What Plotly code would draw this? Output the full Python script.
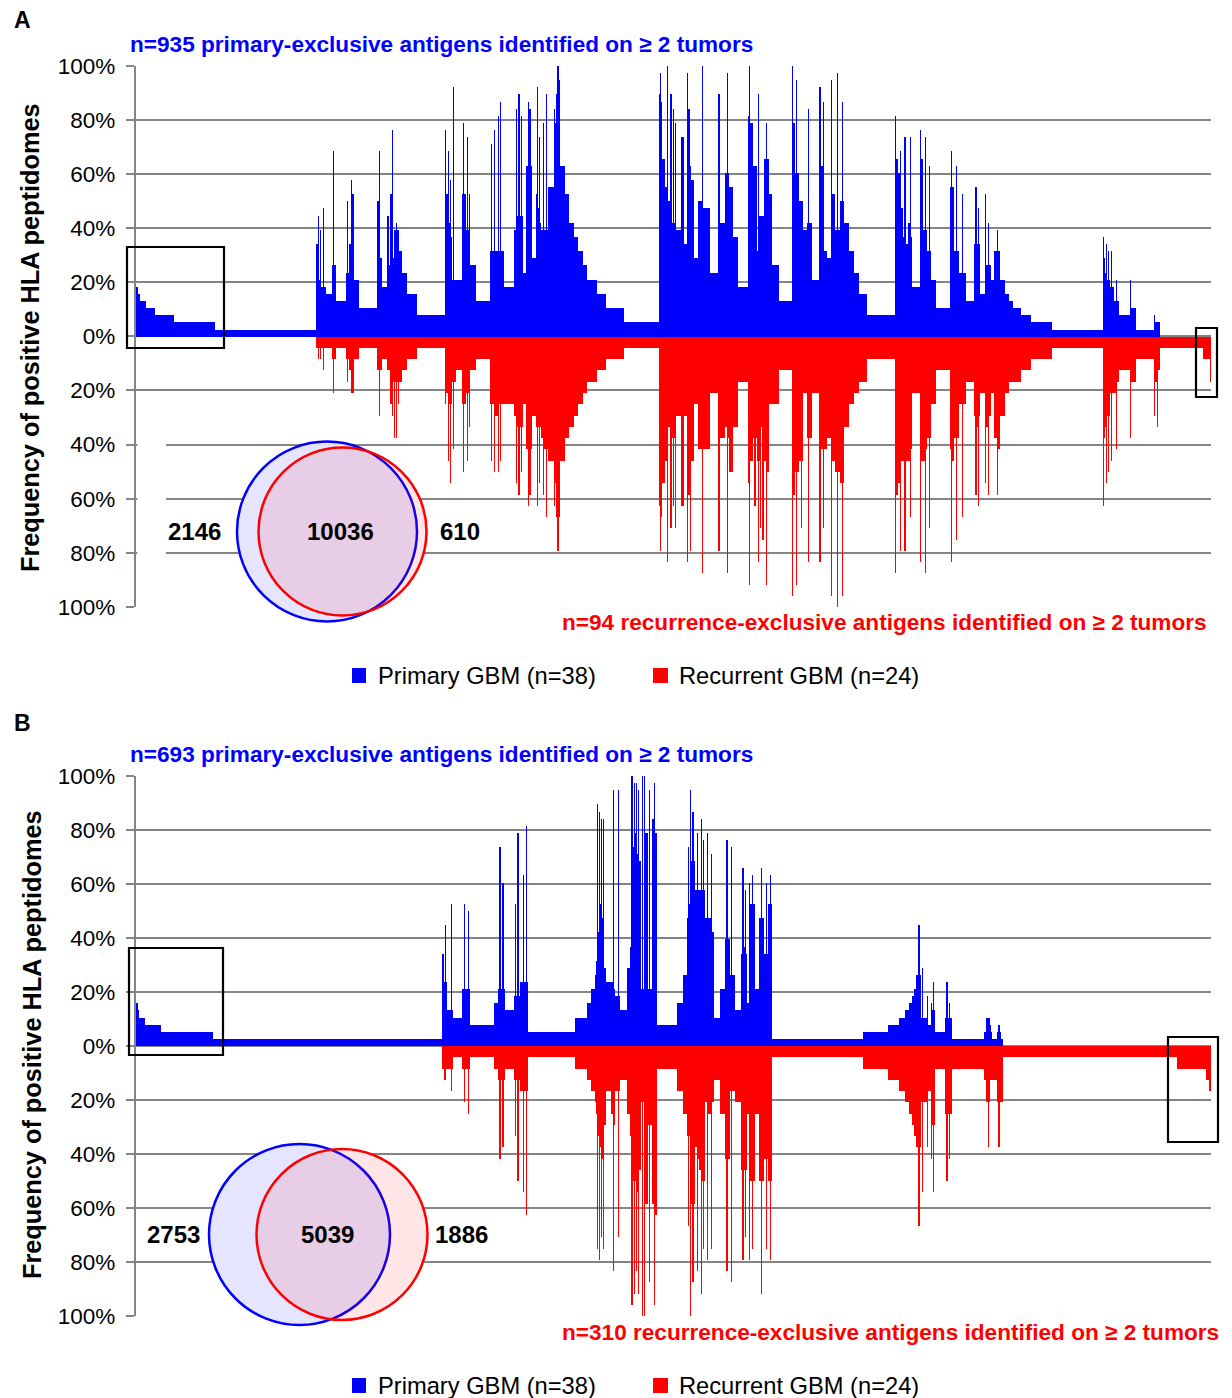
import numpy as np
import plotly.graph_objects as go

W, H = 1232, 1398
N_PRI, N_REC = 38, 24
FONT = "Liberation Sans, Arial, Helvetica, sans-serif"

# Each run = (number of consecutive proteins, # primary tumors positive, # recurrent tumors positive)
# ---------------- Panel A ----------------
A_pri_only = [(20, 7, 0), (28, 6, 0), (71, 5, 0), (111, 4, 0), (226, 3, 0), (479, 2, 0), (1211, 1, 0)]
A_shared_1 = [(18, 13, 1), (2, 17, 2), (24, 8, 1), (2, 15, 2), (30, 7, 1), (2, 12, 1), (2, 18, 3), (30, 7, 1),
              (75, 6, 1), (12, 10, 2), (2, 26, 5), (2, 17, 3), (30, 10, 2), (119, 5, 1),
              (12, 9, 2), (2, 19, 4), (20, 9, 2), (24, 13, 3), (2, 22, 5), (20, 13, 3), (2, 20, 5), (71, 8, 2),
              (215, 4, 1),
              (24, 19, 3), (2, 26, 7), (30, 11, 3), (71, 7, 2), (12, 17, 3), (24, 10, 3), (2, 20, 6), (18, 11, 3),
              (2, 23, 7), (2, 29, 7), (18, 11, 4),
              (2, 15, 9), (24, 15, 4), (2, 16, 9), (24, 15, 4), (2, 15, 6), (36, 12, 4), (59, 9, 3), (119, 6, 2),
              (340, 3, 1)]
A_shared_2 = [(2, 29, 6), (30, 20, 5), (2, 26, 10), (2, 25, 11), (20, 16, 6), (2, 22, 13), (20, 14, 6),
              (20, 8, 4), (2, 35, 10), (20, 8, 4), (71, 8, 3),
              (24, 20, 6), (2, 30, 12), (24, 20, 6), (20, 15, 5), (2, 28, 11), (20, 15, 5), (2, 20, 8),
              (71, 10, 3), (175, 5, 2)]
A_shared_3 = [(18, 12, 6), (2, 27, 11), (30, 12, 6), (2, 29, 12), (40, 12, 7), (2, 31, 12), (24, 12, 6),
              (2, 33, 11), (40, 12, 6),
              (119, 7, 6),
              (30, 15, 7), (2, 32, 13), (30, 17, 8), (2, 34, 14), (30, 17, 8), (2, 31, 12), (10, 17, 8),
              (48, 9, 6),
              (18, 24, 10), (2, 33, 15), (18, 26, 11), (2, 32, 14), (18, 24, 10),
              (59, 11, 7),
              (12, 20, 8), (2, 35, 15), (20, 18, 8), (2, 28, 13), (20, 16, 8),
              (30, 15, 9), (2, 30, 14), (30, 15, 10), (2, 34, 16), (18, 15, 10),
              (71, 21, 11), (2, 32, 15),
              (20, 30, 13), (2, 34, 16), (20, 33, 15), (2, 38, 19), (20, 33, 14), (2, 36, 16),
              (59, 24, 11), (48, 20, 9), (59, 16, 8), (48, 14, 7), (59, 12, 6), (48, 10, 5), (119, 8, 4),
              (107, 6, 3), (214, 4, 2), (416, 2, 1)]
A_shared_4 = [(12, 34, 15), (2, 37, 19), (18, 33, 16),
              (36, 25, 13),
              (30, 21, 11), (2, 38, 20), (42, 19, 8), (2, 34, 17),
              (30, 16, 9), (2, 32, 15), (20, 16, 9), (2, 30, 17),
              (59, 15, 7), (36, 28, 15), (48, 13, 7),
              (2, 37, 20), (30, 32, 14),
              (2, 24, 19), (42, 22, 11),
              (48, 11, 6),
              (50, 19, 10), (2, 37, 21), (2, 38, 14),
              (83, 18, 10), (110, 9, 5),
              (2, 34, 19), (66, 16, 9),
              (30, 23, 8), (2, 37, 21), (24, 23, 9),
              (48, 21, 12), (59, 14, 8), (110, 7, 4),
              (24, 31, 13), (2, 38, 22), (36, 30, 11),
              (24, 24, 9), (2, 22, 15), (18, 24, 9),
              (24, 12, 11), (2, 34, 20), (6, 12, 11),
              (12, 17, 8), (2, 17, 17), (30, 17, 8), (2, 17, 18), (12, 17, 8),
              (24, 25, 11), (2, 30, 22), (36, 25, 12),
              (36, 20, 6), (83, 10, 6), (150, 5, 3),
              (2, 38, 23), (30, 30, 14),
              (24, 23, 12), (2, 36, 22), (30, 23, 12),
              (24, 19, 11), (2, 19, 17), (18, 19, 11),
              (48, 15, 5),
              (18, 16, 9), (2, 32, 20), (36, 16, 9),
              (95, 8, 5),
              (2, 35, 20), (36, 24, 10), (2, 33, 17), (40, 12, 10),
              (59, 11, 9),
              (2, 36, 23), (42, 20, 11),
              (24, 15, 12), (2, 37, 23), (2, 35, 24), (24, 15, 12),
              (30, 19, 13), (2, 33, 23), (24, 19, 13),
              (59, 16, 8), (59, 12, 6), (59, 9, 5), (95, 6, 4), (335, 3, 2)]
A_shared_5 = [(2, 31, 21), (30, 25, 14),
              (24, 23, 13), (2, 26, 19), (30, 18, 11),
              (24, 14, 11), (2, 28, 19), (30, 13, 11),
              (30, 16, 11), (2, 28, 16), (24, 14, 10),
              (95, 7, 5),
              (2, 29, 20), (30, 25, 11),
              (24, 15, 11), (2, 28, 21), (18, 15, 10),
              (36, 12, 9), (2, 24, 17), (18, 12, 9),
              (59, 8, 6), (165, 4, 3),
              (18, 21, 10), (2, 26, 20), (24, 21, 11),
              (24, 12, 9), (2, 24, 18), (30, 12, 9),
              (40, 9, 6), (2, 20, 16), (50, 9, 6),
              (95, 5, 4),
              (18, 13, 7), (2, 21, 14), (24, 13, 8), (2, 18, 15), (18, 13, 7),
              (71, 6, 5),
              (2, 20, 13), (30, 10, 8), (2, 16, 14), (30, 10, 7),
              (36, 8, 5),
              (36, 12, 9), (2, 15, 14), (36, 12, 10),
              (48, 8, 7), (48, 6, 5), (48, 5, 4), (95, 4, 4), (119, 3, 3), (250, 2, 2), (615, 1, 1)]
A_shared_6 = [(2, 14, 15), (18, 11, 9),
              (18, 9, 8), (2, 13, 13), (18, 8, 7), (2, 12, 12), (12, 8, 7),
              (24, 7, 5), (2, 12, 11), (30, 7, 5),
              (30, 5, 5), (2, 8, 10), (24, 5, 4),
              (140, 3, 3),
              (2, 8, 9), (66, 4, 4),
              (215, 1, 2),
              (2, 3, 7), (30, 2, 4), (2, 2, 8), (30, 2, 3)]
A_rec_only = [(516, 0, 1), (80, 0, 2), (10, 0, 3), (4, 0, 4)]

# ---------------- Panel B ----------------
B_pri_only = [(15, 6, 0), (15, 5, 0), (54, 4, 0), (144, 3, 0), (465, 2, 0), (2060, 1, 0)]
B_shared_1 = [(13, 13, 2), (10, 9, 3), (2, 17, 2), (10, 9, 2),
              (40, 5, 2), (2, 20, 4), (2, 14, 3), (10, 5, 2),
              (90, 4, 1),
              (14, 8, 2), (2, 20, 5), (36, 8, 2), (2, 19, 6), (8, 8, 2),
              (216, 3, 1),
              (45, 6, 2),
              (12, 8, 3), (2, 28, 10), (24, 8, 3), (2, 23, 9), (20, 8, 3),
              (81, 5, 2),
              (12, 7, 3), (2, 20, 8), (18, 7, 3), (2, 30, 12), (18, 7, 3),
              (30, 9, 4), (2, 24, 13), (24, 9, 4), (2, 31, 15), (14, 9, 4),
              (417, 2, 1)]
B_shared_2 = [(108, 4, 2), (36, 6, 3), (36, 8, 4), (18, 10, 5),
              (10, 12, 6), (2, 34, 18), (14, 16, 8), (2, 33, 19), (14, 20, 9), (2, 32, 17), (14, 18, 10),
              (2, 32, 18), (20, 11, 7),
              (45, 9, 4),
              (24, 9, 6), (2, 36, 20), (18, 8, 7),
              (24, 7, 4), (2, 36, 17), (18, 7, 4),
              (63, 5, 3),
              (20, 11, 6), (20, 14, 8),
              (2, 38, 23), (18, 28, 12), (2, 37, 22), (18, 30, 12), (2, 37, 20), (18, 27, 13), (2, 36, 22),
              (20, 26, 11),
              (12, 8, 5), (2, 38, 24), (18, 8, 5),
              (2, 38, 24), (30, 30, 14),
              (14, 8, 7), (2, 36, 21), (18, 8, 7),
              (20, 32, 14), (2, 37, 23), (20, 30, 15),
              (181, 3, 2), (54, 6, 4), (36, 10, 6),
              (18, 18, 8), (2, 28, 16), (14, 20, 8),
              (2, 36, 24), (20, 26, 14), (2, 33, 21), (16, 26, 14),
              (20, 22, 9), (2, 30, 20), (20, 22, 10),
              (14, 22, 11), (2, 32, 22), (20, 22, 12), (2, 29, 18), (14, 22, 12),
              (20, 18, 5), (2, 30, 19), (30, 18, 6), (2, 27, 18), (26, 16, 5),
              (54, 4, 3), (45, 8, 6),
              (14, 15, 10), (2, 29, 20), (26, 15, 10),
              (14, 10, 4), (2, 28, 21), (26, 10, 4),
              (63, 5, 5),
              (10, 13, 11), (2, 25, 19), (20, 14, 11), (2, 22, 17), (10, 13, 11),
              (27, 6, 6),
              (2, 23, 19), (20, 20, 12), (2, 24, 18), (20, 20, 12),
              (2, 18, 12), (40, 8, 6),
              (16, 18, 12), (2, 25, 22), (24, 18, 12),
              (20, 13, 10), (2, 23, 18), (20, 13, 10),
              (16, 20, 12), (2, 24, 19), (16, 20, 12)]
B_shared_3 = [(815, 1, 1), (225, 2, 2), (99, 3, 3), (54, 4, 4), (36, 5, 5), (27, 6, 6), (18, 7, 7), (18, 8, 8),
              (18, 10, 9), (5, 14, 12), (2, 17, 16), (18, 10, 9),
              (10, 4, 5), (2, 11, 13), (45, 4, 5), (2, 7, 9), (30, 3, 4), (2, 6, 10), (18, 5, 7), (2, 9, 13),
              (12, 5, 7),
              (90, 2, 2),
              (18, 4, 6), (2, 9, 12), (20, 4, 6), (2, 6, 10), (20, 4, 6),
              (288, 1, 2), (27, 2, 3),
              (12, 4, 5), (2, 4, 9), (12, 4, 5),
              (8, 2, 3), (2, 3, 3), (8, 2, 3),
              (54, 1, 3),
              (10, 2, 5), (2, 3, 9), (14, 2, 5),
              (18, 1, 5)]
B_rec_only = [(1563, 0, 1), (260, 0, 2), (36, 0, 3), (12, 0, 4), (2, 0, 7)]

PANEL_A = [A_pri_only, A_shared_1, A_shared_2, A_shared_3, A_shared_4, A_shared_5, A_shared_6, A_rec_only]
PANEL_B = [B_pri_only, B_shared_1, B_shared_2, B_shared_3, B_rec_only]

Y_TICKS = [-100, -80, -60, -40, -20, 0, 20, 40, 60, 80, 100]
Y_TICKTEXT = [f"{abs(v)}%" for v in Y_TICKS]

A_TITLE_PRI = "n=935 primary-exclusive antigens identified on ≥ 2 tumors"
A_TITLE_REC = "n=94 recurrence-exclusive antigens identified on ≥ 2 tumors"
B_TITLE_PRI = "n=693 primary-exclusive antigens identified on ≥ 2 tumors"
B_TITLE_REC = "n=310 recurrence-exclusive antigens identified on ≥ 2 tumors"
A_VENN = ["2146", "10036", "610"]
B_VENN = ["2753", "5039", "1886"]
LEG_PRI = "Primary GBM (n=38)"
LEG_REC = "Recurrent GBM (n=24)"
Y_TITLE = "Frequency of positive HLA peptidomes"

BLUE, RED = "#0000FF", "#FF0000"
GRID = "#858585"


def build(groups):
    runs = [r for g in groups for r in g]
    lens = np.array([r[0] for r in runs], float)
    pri = np.array([r[1] for r in runs], float)
    rec = np.array([r[2] for r in runs], float)
    starts = np.concatenate([[0.0], np.cumsum(lens)[:-1]])
    return starts, lens, pri / N_PRI * 100.0, -rec / N_REC * 100.0, lens.sum()


def px(x):
    return x / W


def py(y):
    return 1 - y / H


fig = go.Figure()
axes_cfg = []
for idx, (groups, (ytop, ybot)) in enumerate([(PANEL_A, (65.7, 607.0)), (PANEL_B, (776.0, 1316.0))]):
    s, l, p, r, tot = build(groups)
    xa = "x" if idx == 0 else "x2"
    ya = "y" if idx == 0 else "y2"
    mp = p > 0
    mr = r < 0
    fig.add_trace(go.Bar(x=s[mp], y=p[mp], width=l[mp], offset=0, xaxis=xa, yaxis=ya,
                         marker=dict(color=BLUE, line=dict(width=0)), showlegend=False, hoverinfo="skip"))
    fig.add_trace(go.Bar(x=s[mr], y=r[mr], width=l[mr], offset=0, xaxis=xa, yaxis=ya,
                         marker=dict(color=RED, line=dict(width=0)), showlegend=False, hoverinfo="skip"))
    axes_cfg.append((tot, [py(ybot), py(ytop)]))

XDOM = [px(135.7), px(1211.0)]
common_y = dict(range=[-100, 100], tickvals=Y_TICKS, ticktext=Y_TICKTEXT, showgrid=True, gridcolor=GRID,
                gridwidth=2, showline=True, linecolor=GRID, linewidth=2, ticks="outside", ticklen=8,
                tickwidth=2, tickcolor=GRID, tickfont=dict(family=FONT, size=22.5, color="black"),
                zeroline=False, automargin=False, ticklabelstandoff=6, fixedrange=True)
fig.update_layout(
    xaxis=dict(domain=XDOM, range=[0, axes_cfg[0][0]], visible=False, anchor="y", automargin=False),
    yaxis=dict(domain=axes_cfg[0][1], anchor="x", **common_y),
    xaxis2=dict(domain=XDOM, range=[0, axes_cfg[1][0]], visible=False, anchor="y2", automargin=False),
    yaxis2=dict(domain=axes_cfg[1][1], anchor="x2", **common_y),
    barmode="overlay", bargap=0, bargroupgap=0,
    width=W, height=H, margin=dict(l=0, r=0, t=0, b=0),
    paper_bgcolor="white", plot_bgcolor="white", template="none", showlegend=False,
)

shapes = []
ann = []


def text(x, y, s, size, color="black", bold=False, xanchor="center", angle=0):
    ann.append(dict(x=px(x), y=py(y), xref="paper", yref="paper", text=f"<b>{s}</b>" if bold else s,
                    showarrow=False, xanchor=xanchor, yanchor="middle", textangle=angle,
                    font=dict(family=FONT, size=size, color=color)))


def circle(cx, cy, rr, line, fill, lw=2.5):
    shapes.append(dict(type="circle", xref="paper", yref="paper", x0=px(cx - rr), x1=px(cx + rr),
                       y0=py(cy + rr), y1=py(cy - rr), line=dict(color=line, width=lw), fillcolor=fill,
                       layer="above"))


def rect(x0, y0, x1, y1, line=None, fill=None, lw=2):
    shapes.append(dict(type="rect", xref="paper", yref="paper", x0=px(x0), x1=px(x1), y0=py(y1), y1=py(y0),
                       line=dict(color=line or "rgba(0,0,0,0)", width=lw if line else 0),
                       fillcolor=fill or "rgba(0,0,0,0)", layer="above"))


# hide grid under the pasted Venn image edge (panel A)
rect(137.5, 438, 166, 612, fill="white")

for (dy, venn, (bc, rc), labx, tp, tr, trx, boxes) in [
    (0, A_VENN, ((327, 531.5, 90), (342.5, 531.5, 84)), (194, 340, 460), A_TITLE_PRI, A_TITLE_REC, 1209,
     [(127, 247, 224, 348), (1196, 328, 1217, 397)]),
    (1, B_VENN, ((299.5, 1234.5, 90.5), (342, 1234.5, 85.5)), (173, 327, 461), B_TITLE_PRI, B_TITLE_REC, 1221,
     [(129, 948, 223, 1055), (1168, 1037, 1218, 1142)]),
]:
    cy = bc[1]
    circle(*bc, "white", "white", lw=0)
    circle(*rc, "white", "white", lw=0)
    circle(*bc, BLUE, "rgba(0,0,255,0.10)")
    circle(*rc, RED, "rgba(255,0,0,0.10)")
    for xx, s in zip(labx, venn):
        text(xx, cy, s, 24, bold=True)
    for b in boxes:
        rect(*b, line="black", lw=2.2)
    off = 0 if dy == 0 else 710
    text(128, 45 + off, tp, 22.6, color=BLUE, bold=True, xanchor="left")
    text(trx, (622 if dy == 0 else 1332), tr, 22.6, color=RED, bold=True, xanchor="right")
    text(12, 20 + off + (0 if dy == 0 else -7), "A" if dy == 0 else "B", 23, bold=True, xanchor="left")
    ly = 676 if dy == 0 else 1386
    rect(352, ly - 8, 366, ly + 7, fill=BLUE)
    rect(653, ly - 8, 668, ly + 7, fill=RED)
    text(376, ly, LEG_PRI, 23.7, xanchor="left")
    text(677, ly, LEG_REC, 23.7, xanchor="left")
    text(30 if dy == 0 else 32, 338 if dy == 0 else 1045, Y_TITLE, 25.3, bold=True, angle=-90)

fig.update_layout(shapes=shapes, annotations=ann)
fig.write_html("out.html")
